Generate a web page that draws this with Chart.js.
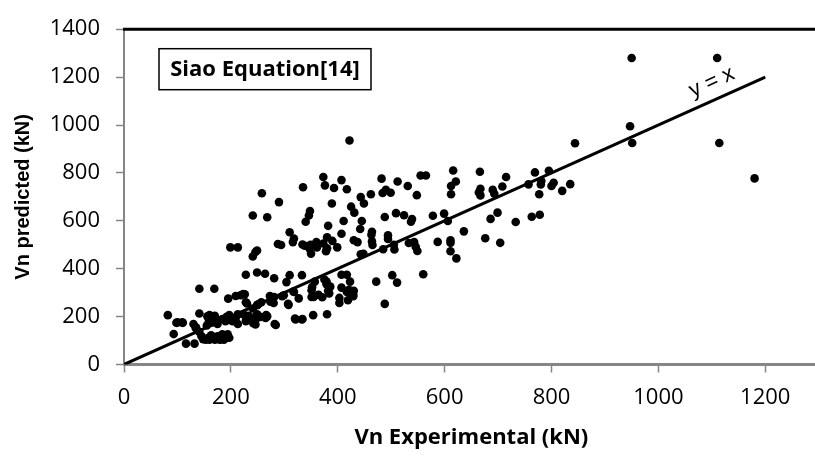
<!DOCTYPE html>
<html>
<head>
<meta charset="utf-8">
<script src="https://cdn.jsdelivr.net/npm/chart.js@4.4.1/dist/chart.umd.min.js"></script>
<style>
  html, body { margin: 0; padding: 0; background: #fff; overflow: hidden; }
  canvas { display: block; }
</style>
</head>
<body>
<canvas id="scatterSiao" width="823" height="458"></canvas>
<script>
// Vn experimental (kN) vs Vn predicted (kN)
var vnExp = [
  950, 1110, 947, 951, 1114, 1180, 844, 422,
  616, 666, 769, 795, 373, 407, 482, 512, 555, 565, 715, 621, 781, 804, 835, 757,
  335, 376, 393, 531, 612, 800, 780, 708, 667, 690, 417, 490, 484, 499, 462, 258,
  443, 548, 612, 664, 667, 693, 777, 820, 290, 389, 449, 425, 431, 348, 346, 241,
  268, 488, 509, 524, 539, 537, 578, 599, 606, 340, 382, 411, 445, 686, 699, 763,
  778, 733, 442, 310, 464, 463, 407, 636, 380, 494, 494, 318, 334, 288, 294, 316,
  349, 360, 338, 373, 390, 399, 380, 378, 361, 350, 347, 430, 437, 464, 465, 485,
  506, 505, 533, 543, 546, 549, 587, 611, 611, 611, 622, 676, 704, 443, 448, 199,
  213, 241, 246, 249,
  228, 249, 264, 281, 310, 333, 375, 379, 357, 407, 417, 423, 407, 421, 430, 429,
  429, 419, 403, 403, 386, 382, 384, 371, 351, 351, 364, 472, 502, 511, 560, 488,
  304, 317, 296, 273, 275, 280, 307, 257, 249, 241, 249, 228, 223, 209, 195, 266,
  242, 282, 320, 334, 354, 380, 233, 197, 213, 204, 213, 184, 172, 160, 141, 169,
  141, 82, 100, 109, 93, 130, 134, 141, 116, 132, 145, 153, 160, 170, 180, 184,
  194, 175, 187, 163, 155, 165, 175, 160, 170, 192, 223, 229, 247, 255, 268,
  135, 156, 159, 166, 218, 226, 230, 251, 274, 281, 299, 308, 318, 327, 352, 355,
  246, 284, 321, 333, 265, 197, 203, 209, 190, 228, 234, 98, 110,
  148, 157, 167, 177, 190, 197, 379, 426, 417
];
var vnPred = [
  1280, 1280, 995, 925, 925, 777, 924, 935,
  810, 805, 802, 809, 783, 770, 776, 764, 789, 789, 783, 764, 766, 759, 753, 752,
  740, 748, 737, 745, 745, 745, 752, 743, 734, 729, 732, 729, 716, 717, 711, 715,
  699, 707, 711, 718, 706, 713, 711, 725, 678, 672, 672, 659, 634, 641, 622, 622,
  615, 616, 632, 623, 607, 596, 621, 630, 599, 596, 579, 599, 599, 608, 634, 617,
  625, 595, 566, 552, 554, 542, 546, 556, 531, 539, 524, 526, 501, 503, 499, 511,
  500, 511, 496, 505, 516, 489, 485, 473, 489, 463, 485, 519, 511, 514, 499, 481,
  480, 500, 507, 511, 491, 474, 512, 519, 508, 473, 443, 527, 508, 460, 462, 489,
  489, 451, 470, 476,
  375, 384, 379, 360, 373, 373, 355, 346, 346, 375, 375, 346, 321, 312, 308, 291,
  285, 268, 278, 257, 325, 308, 297, 281, 310, 282, 291, 346, 373, 342, 377, 253,
  344, 305, 285, 286, 274, 257, 253, 260, 248, 234, 210, 260, 294, 286, 275, 206,
  172, 169, 192, 190, 206, 210, 203, 206, 210, 186, 169, 190, 190, 206, 316, 316,
  213, 206, 176, 176, 127, 169, 153, 136, 87, 87, 118, 104, 104, 104, 104, 126,
  126, 118, 104, 122, 163, 176, 169, 190, 203, 199, 210, 190, 190, 199, 201,
  154, 201, 181, 194, 289, 293, 255, 251, 262, 282, 289, 249, 303, 276, 323, 282,
  167, 165, 188, 188, 194, 194, 181, 194, 181, 181, 201, 174, 174,
  106, 110, 110, 106, 110, 112, 335, 296, 303
];
var refLine = [0, 1200];           // y = x line ends
var xTicks = [0, 200, 400, 600, 800, 1000, 1200];
var yTicks = [0, 200, 400, 600, 800, 1000, 1200, 1400];

var points = vnExp.map(function(x, i) { return {x: x, y: vnPred[i]}; });
var linePts = refLine.map(function(v) { return {x: v, y: v}; });

var axisGray = '#868686';
var plainNum = function(v) { return String(v); };

var extras = {
    id: 'extras',
    afterDraw: function(chart) {
        var ctx = chart.ctx, a = chart.chartArea;
        var xs = chart.scales.x, ys = chart.scales.y;
        ctx.save();
        // top frame line
        ctx.strokeStyle = '#000';
        ctx.lineWidth = 3;
        ctx.beginPath();
        ctx.moveTo(a.left - 1, a.top);
        ctx.lineTo(chart.width, a.top);
        ctx.stroke();

        // label box
        var bx = a.left + 35, by = a.top + 19.5, bw = 212, bh = 41;
        ctx.fillStyle = '#fff';
        ctx.fillRect(bx, by, bw, bh);
        ctx.lineWidth = 1.5;
        ctx.strokeRect(bx, by, bw, bh);
        ctx.fillStyle = '#000';
        ctx.font = 'bold 22px "Open Sans"';
        ctx.textAlign = 'center';
        ctx.textBaseline = 'middle';
        ctx.fillText('Siao Equation[14]', bx + bw / 2, by + bh / 2 + 1);

        // y = x label along the line
        var x0 = xs.getPixelForValue(0), y0 = ys.getPixelForValue(0);
        var x1 = xs.getPixelForValue(1200), y1 = ys.getPixelForValue(1200);
        var ang = Math.atan2(y1 - y0, x1 - x0);
        ctx.translate(xs.getPixelForValue(1100), ys.getPixelForValue(1178));
        ctx.rotate(ang);
        ctx.font = '22px "Liberation Sans"';
        ctx.fillText('y = x', 0, 0);
        ctx.restore();
    }
};

new Chart(document.getElementById('scatterSiao'), {
    type: 'scatter',
    data: {
        datasets: [
            {
                type: 'line',
                data: linePts,
                borderColor: '#000',
                borderWidth: 3,
                pointRadius: 0,
                fill: false,
                order: 2
            },
            {
                data: points,
                backgroundColor: '#000',
                borderWidth: 0,
                pointRadius: 4.3,
                pointHoverRadius: 4.3,
                order: 1
            }
        ]
    },
    options: {
        responsive: false,
        animation: false,
        layout: { padding: { top: 20, right: 1, left: 0, bottom: 0 } },
        plugins: {
            legend: { display: false },
            tooltip: { enabled: false }
        },
        scales: {
            x: {
                type: 'linear',
                min: 0,
                max: 1300,
                afterBuildTicks: function(s) { s.ticks = xTicks.map(function(v) { return {value: v}; }); },
                afterFit: function(s) { s.height = 93.5; },
                ticks: {
                    color: '#000',
                    padding: 12,
                    maxRotation: 0,
                    callback: plainNum,
                    font: { family: '"Open Sans"', size: 22 }
                },
                grid: { drawOnChartArea: false, drawTicks: true, tickLength: 8, color: axisGray, tickWidth: 1.5 },
                border: { display: true, color: axisGray, width: 3 },
                title: {
                    display: true,
                    text: 'Vn Experimental (kN)',
                    color: '#000',
                    font: { family: '"Open Sans"', size: 22, weight: 'bold', lineHeight: 1.2 },
                    padding: { top: 0, bottom: 7 }
                }
            },
            y: {
                type: 'linear',
                min: 0,
                max: 1400,
                afterBuildTicks: function(s) { s.ticks = yTicks.map(function(v) { return {value: v}; }); },
                afterFit: function(s) { s.width = 124; },
                ticks: {
                    color: '#000',
                    padding: 16,
                    callback: plainNum,
                    font: { family: '"Open Sans"', size: 22 }
                },
                grid: { drawOnChartArea: false, drawTicks: true, tickLength: 8, color: axisGray, tickWidth: 1.5 },
                border: { display: true, color: axisGray, width: 2 },
                title: {
                    display: true,
                    text: 'Vn predicted (kN)',
                    color: '#000',
                    font: { family: '"Liberation Sans"', size: 20, weight: 'bold', lineHeight: 1.2 },
                    padding: { top: 11, bottom: 0 }
                }
            }
        }
    },
    plugins: [extras]
});
</script>
</body>
</html>
